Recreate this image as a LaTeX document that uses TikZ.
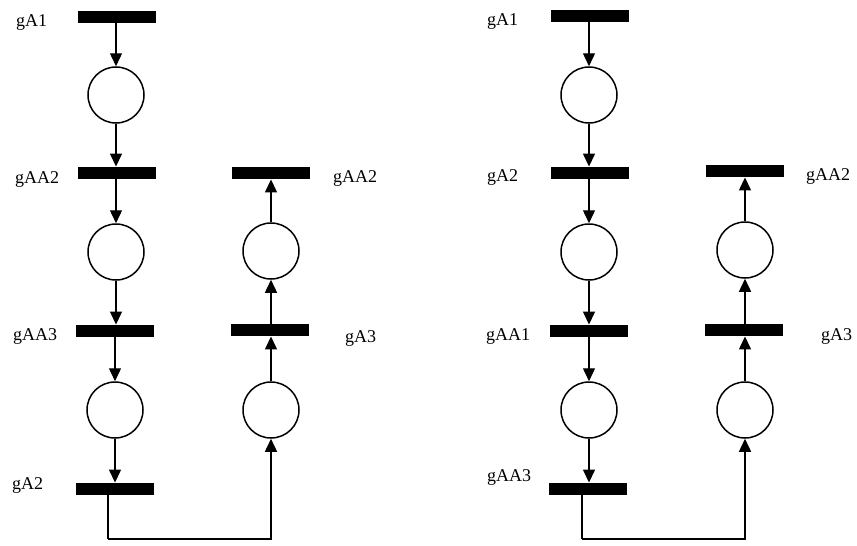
\documentclass[tikz,border=0pt]{standalone}
\usepackage{fontspec}
\setmainfont{Liberation Serif}
\usetikzlibrary{arrows.meta}
\begin{document}
\begin{tikzpicture}[x=1pt,y=-1pt,
  place/.style={circle,draw,line width=1.5pt,minimum size=56pt,inner sep=0pt},
  trans/.style={rectangle,fill=black,minimum width=78pt,minimum height=12.5pt,inner sep=0pt},
  arr/.style={-{Triangle[length=13pt,width=12pt]},line width=1.4pt},
  lbl/.style={anchor=base west,inner sep=0pt,font=\fontsize{18}{20}\selectfont}]
\useasboundingbox (0,0) rectangle (857,546);
% ---------------- left diagram ----------------
\node[trans] (a1) at (117,17) {};
\node[place] (ap1) at (116,95) {};
\node[trans] (a2) at (117,173) {};
\node[place] (ap2) at (116,252) {};
\node[trans] (a3) at (115,331) {};
\node[place] (ap3) at (115,410) {};
\node[trans] (a4) at (115,489) {};
\node[trans] (ar1) at (271,173) {};
\node[place] (aq1) at (271,251) {};
\node[trans] (ar2) at (270,330) {};
\node[place] (aq2) at (271,410) {};
\coordinate (ab) at (108,539);
\draw[arr] (ap1.north |- a1.south) -- (ap1);
\draw[arr] (ap1) -- (ap1.south |- a2.north);
\draw[arr] (ap2.north |- a2.south) -- (ap2);
\draw[arr] (ap2) -- (ap2.south |- a3.north);
\draw[arr] (a3) -- (ap3);
\draw[arr] (ap3) -- (a4);
\draw[line width=1.4pt] ([xshift=-7pt]a4.south) -- (ab);
\draw[arr] (ab) -| (aq2.south);
\draw[arr] (aq2.north) -- (aq2.north |- ar2.south);
\draw[arr] (aq1.south |- ar2.north) -- (aq1.south);
\draw[arr] (aq1.north) -- (ar1.south);
\node[lbl] (la1) at (16,26) {gA1};
\node[lbl] (la2) at (15,183) {gAA2};
\node[lbl] (la3) at (13,340) {gAA3};
\node[lbl] (la4) at (12,489) {gA2};
\node[lbl] (lar1) at (333,182) {gAA2};
\node[lbl] (lar2) at (345,342) {gA3};
% ---------------- right diagram ----------------
\node[trans] (b1) at (590,16) {};
\node[place] (bp1) at (589,95) {};
\node[trans] (b2) at (590,173) {};
\node[place] (bp2) at (589,252) {};
\node[trans] (b3) at (589,331) {};
\node[place] (bp3) at (589,410) {};
\node[trans] (b4) at (588,489) {};
\node[trans] (br1) at (745,171) {};
\node[place] (bq1) at (745,250) {};
\node[trans] (br2) at (744,330) {};
\node[place] (bq2) at (745,410) {};
\coordinate (bb) at (582,539);
\draw[arr] (bp1.north |- b1.south) -- (bp1);
\draw[arr] (bp1) -- (bp1.south |- b2.north);
\draw[arr] (bp2.north |- b2.south) -- (bp2);
\draw[arr] (bp2) -- (bp2.south |- b3.north);
\draw[arr] (bp3.north |- b3.south) -- (bp3);
\draw[arr] (bp3) -- (bp3.south |- b4.north);
\draw[line width=1.4pt] ([xshift=-6pt]b4.south) -- (bb);
\draw[arr] (bb) -| (bq2.south);
\draw[arr] (bq2.north) -- (bq2.north |- br2.south);
\draw[arr] (bq1.south |- br2.north) -- (bq1.south);
\draw[arr] (bq1.north) -- (bq1.north |- br1.south);
\node[lbl] (lb1) at (487,25) {gA1};
\node[lbl] (lb2) at (487,181) {gA2};
\node[lbl] (lb3) at (486,340) {gAA1};
\node[lbl] (lb4) at (487,481) {gAA3};
\node[lbl] (lbr1) at (806,180) {gAA2};
\node[lbl] (lbr2) at (821,340) {gA3};
\end{tikzpicture}
\end{document}
